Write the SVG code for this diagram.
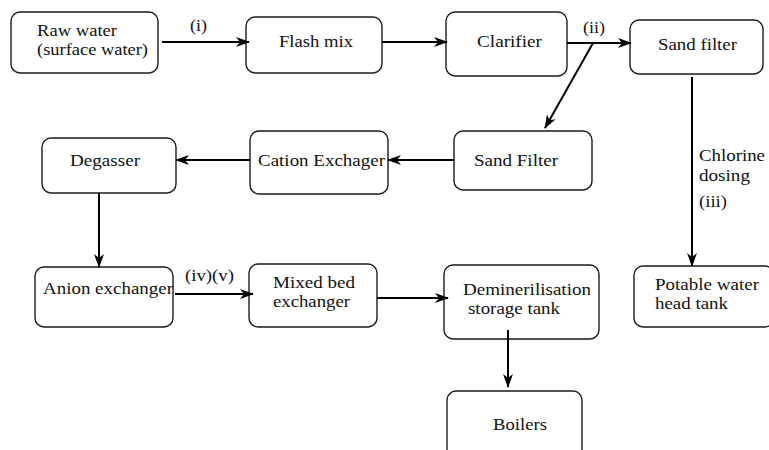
<svg xmlns="http://www.w3.org/2000/svg" width="769" height="450" viewBox="0 0 769 450">
  <style>
    .box { fill: #ffffff; stroke: #1a1a1a; stroke-width: 1.4; }
    .lbl { font-size: 17.5px; fill: #111; }
    .flow { stroke: #000; stroke-width: 2; fill: none; marker-end: url(#arrow); }
  </style>
  <defs>
    <marker id="arrow" viewBox="0 0 14 10" refX="13" refY="5" markerWidth="14" markerHeight="10" markerUnits="userSpaceOnUse" orient="auto">
      <path d="M0,0 L14,5 L0,10 L4,5 Z" fill="#000"/>
    </marker>
  </defs>
  <rect width="769" height="450" fill="#ffffff"/>

  <g font-family="Liberation Serif, Times New Roman, serif">
  <!-- process units -->
  <g id="raw-water">
    <rect class="box" x="11" y="12" width="147" height="61" rx="9"/>
    <text class="lbl" x="37" y="36" textLength="80" lengthAdjust="spacingAndGlyphs">Raw water</text>
    <text class="lbl" x="37" y="55" textLength="111" lengthAdjust="spacingAndGlyphs">(surface water)</text>
  </g>
  <g id="flash-mix">
    <rect class="box" x="246" y="17" width="136" height="56" rx="9"/>
    <text class="lbl" x="279" y="47" textLength="74" lengthAdjust="spacingAndGlyphs">Flash mix</text>
  </g>
  <g id="clarifier">
    <rect class="box" x="446" y="12" width="121" height="64" rx="9"/>
    <text class="lbl" x="477" y="47" textLength="65" lengthAdjust="spacingAndGlyphs">Clarifier</text>
  </g>
  <g id="sand-filter-potable">
    <rect class="box" x="630" y="20" width="133" height="54" rx="9"/>
    <text class="lbl" x="658" y="50" textLength="79" lengthAdjust="spacingAndGlyphs">Sand filter</text>
  </g>
  <g id="potable-tank">
    <rect class="box" x="634" y="266" width="140" height="61" rx="9"/>
    <text class="lbl" x="655" y="290" textLength="104" lengthAdjust="spacingAndGlyphs">Potable water</text>
    <text class="lbl" x="655" y="309" textLength="73" lengthAdjust="spacingAndGlyphs">head tank</text>
  </g>
  <g id="sand-filter-demin">
    <rect class="box" x="454" y="131" width="138" height="59" rx="9"/>
    <text class="lbl" x="474" y="166" textLength="84" lengthAdjust="spacingAndGlyphs">Sand Filter</text>
  </g>
  <g id="cation-exchanger">
    <rect class="box" x="250" y="131" width="138" height="63" rx="9"/>
    <text class="lbl" x="258" y="166" textLength="127" lengthAdjust="spacingAndGlyphs">Cation Exchager</text>
  </g>
  <g id="degasser">
    <rect class="box" x="42" y="138" width="134" height="55" rx="9"/>
    <text class="lbl" x="70" y="166" textLength="70" lengthAdjust="spacingAndGlyphs">Degasser</text>
  </g>
  <g id="anion-exchanger">
    <rect class="box" x="35" y="267" width="138" height="60" rx="9"/>
    <text class="lbl" x="43" y="294" textLength="130" lengthAdjust="spacingAndGlyphs">Anion exchanger</text>
  </g>
  <g id="mixed-bed">
    <rect class="box" x="249" y="264" width="128" height="63" rx="9"/>
    <text class="lbl" x="273" y="288" textLength="82" lengthAdjust="spacingAndGlyphs">Mixed bed</text>
    <text class="lbl" x="273" y="307" textLength="77" lengthAdjust="spacingAndGlyphs">exchanger</text>
  </g>
  <g id="demin-tank">
    <rect class="box" x="444" y="265" width="155" height="74" rx="9"/>
    <text class="lbl" x="463" y="295" textLength="128" lengthAdjust="spacingAndGlyphs">Deminerilisation</text>
    <text class="lbl" x="468" y="314" textLength="92" lengthAdjust="spacingAndGlyphs">storage tank</text>
  </g>
  <g id="boilers">
    <rect class="box" x="447" y="391" width="135" height="70" rx="9"/>
    <text class="lbl" x="493" y="430" textLength="54" lengthAdjust="spacingAndGlyphs">Boilers</text>
  </g>

  <!-- flow connectors -->
  <g id="connectors">
    <line class="flow" x1="162" y1="42" x2="249" y2="42"/>
    <line class="flow" x1="382" y1="42" x2="447" y2="42"/>
    <line class="flow" x1="567" y1="43" x2="631" y2="43"/>
    <line class="flow" x1="593" y1="43" x2="545" y2="128"/>
    <line class="flow" x1="692" y1="77" x2="692" y2="266"/>
    <line class="flow" x1="454" y1="160" x2="388" y2="160"/>
    <line class="flow" x1="250" y1="160" x2="176" y2="160"/>
    <line class="flow" x1="99" y1="193" x2="99" y2="267"/>
    <line class="flow" x1="175" y1="294" x2="253" y2="294"/>
    <line class="flow" x1="377" y1="298" x2="448" y2="298"/>
    <line class="flow" x1="508" y1="330" x2="508" y2="387"/>
  </g>

  <!-- stream labels -->
  <g id="stream-labels">
    <text class="lbl" x="190" y="31" textLength="17" lengthAdjust="spacingAndGlyphs">(i)</text>
    <text class="lbl" x="583" y="33" textLength="22" lengthAdjust="spacingAndGlyphs">(ii)</text>
    <text class="lbl" x="699" y="161" textLength="66" lengthAdjust="spacingAndGlyphs">Chlorine</text>
    <text class="lbl" x="699" y="181" textLength="51" lengthAdjust="spacingAndGlyphs">dosing</text>
    <text class="lbl" x="699" y="207" textLength="28" lengthAdjust="spacingAndGlyphs">(iii)</text>
    <text class="lbl" x="185" y="281" textLength="49" lengthAdjust="spacingAndGlyphs">(iv)(v)</text>
  </g>
  </g>
</svg>
